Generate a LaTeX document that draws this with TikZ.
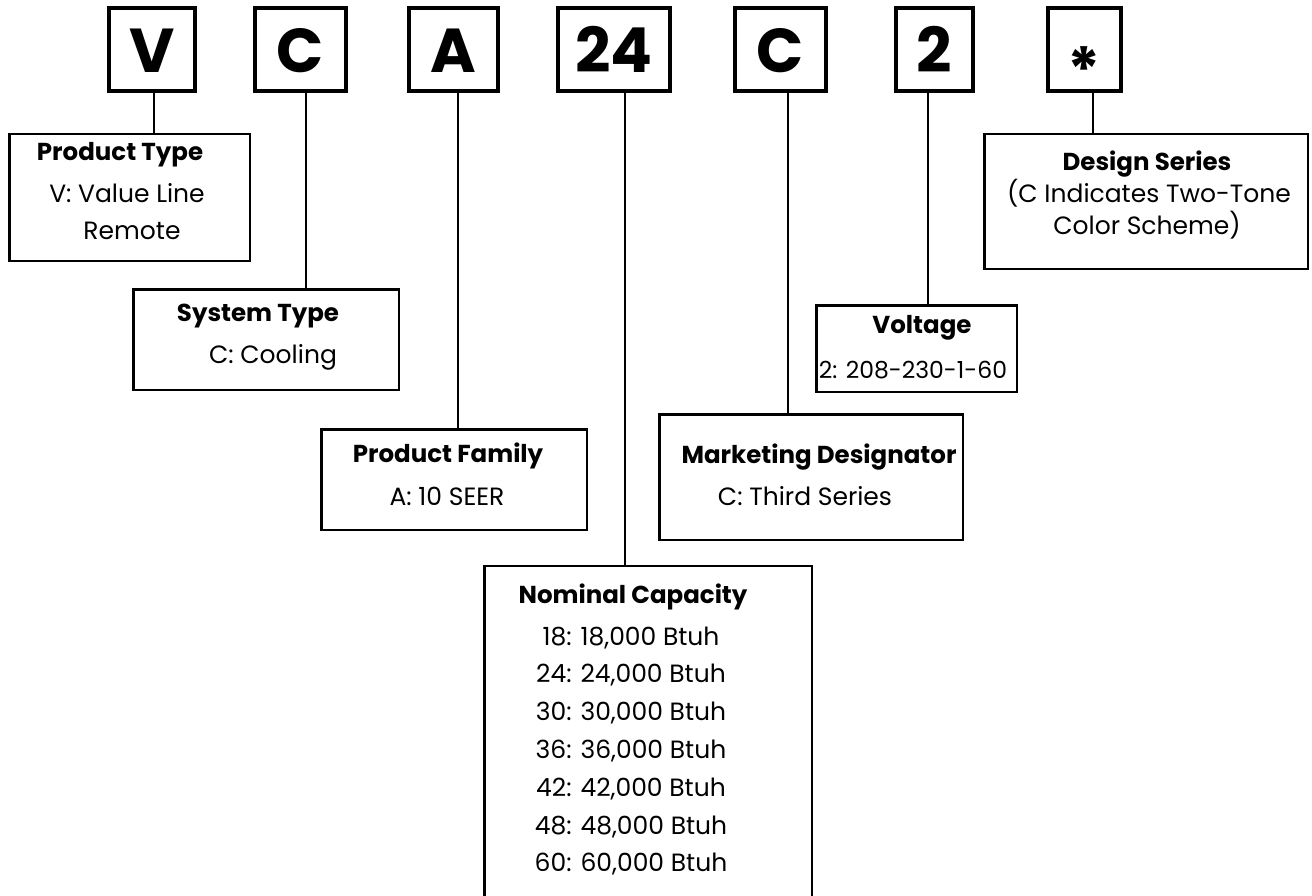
\documentclass[tikz,border=0pt]{standalone}
\usepackage{fontspec}
\setmainfont{Poppins}
\begin{document}
\begin{tikzpicture}[x=1pt,y=-1pt,
    letterbox/.style={draw,line width=4pt,inner sep=0pt,minimum height=83pt,
      text height=47pt,text depth=0pt,font=\fontsize{62}{62}\selectfont\bfseries},
    infobox/.style={draw,line width=2.5pt,inner sep=0pt},
    lead/.style={line width=1.2pt},
    head/.style={anchor=base,inner sep=0pt,font=\fontsize{24.5}{24.5}\selectfont\bfseries},
    body/.style={anchor=base,inner sep=0pt,font=\fontsize{25}{25}\selectfont}]
\useasboundingbox (0,0) rectangle (1312,896);

% code letters
\node[letterbox,minimum width=86pt] (lV) at (152,49.5) {V};
\node[letterbox,minimum width=91pt] (lC) at (300.5,49.5) {C};
\node[letterbox,minimum width=89pt] (lA) at (453.5,49.5) {A};
\node[letterbox,minimum width=112pt] (l24) at (614,49.5) {24};
\node[letterbox,minimum width=91pt] (lM) at (780.5,49.5) {C};
\node[letterbox,minimum width=77pt] (l2) at (934.5,49.5) {2};
\node[letterbox,minimum width=73pt] (lS) at (1084.5,49.5) {\raisebox{-20pt}{*}};

% description boxes
\node[infobox,minimum width=240.5pt,minimum height=126.5pt] (ptype) at (129.5,197.5) {};
\node[infobox,minimum width=265.5pt,minimum height=100.5pt] (stype) at (266,339.5) {};
\node[infobox,minimum width=265.5pt,minimum height=100.5pt] (pfam) at (454,479.5) {};
\node[infobox,minimum width=327.5pt,minimum height=354pt] (ncap) at (648,743) {};
\node[infobox,minimum width=303.5pt,minimum height=125.5pt] (mktg) at (811,477) {};
\node[infobox,minimum width=200.5pt,minimum height=86.5pt] (volt) at (916.5,348.5) {};
\node[infobox,minimum width=323.5pt,minimum height=134.5pt] (dser) at (1146,201.5) {};

% texts
\node[head] (ptypeT) at (120,161) {Product Type};
\node[body] (ptypeA) at (127,203) {V: Value Line};
\node[body] (ptypeB) at (132,240) {Remote};
\node[head] (stypeT) at (258,321) {System Type};
\node[body] (stypeA) at (273,363) {C: Cooling};
\node[head] (pfamT) at (448,462) {Product Family};
\node[body] (pfamA) at (447,505) {A: 10 SEER};
\node[head] (ncapT) at (633,603) {Nominal Capacity};
\foreach \kbtu [count=\i from 0] in {18,24,30,36,42,48,60}
  \node[body] (ncap\kbtu) at (631,{645+37.8*\i}) {\kbtu: \kbtu,000 Btuh};
\node[head] (mktgT) at (819,463) {Marketing Designator};
\node[body] (mktgA) at (805,505) {C: Third Series};
\node[head] (voltT) at (922,333) {Voltage};
\node[body,font=\fontsize{23.5}{23.5}\selectfont] (voltA) at (913,378) {2: 208-230-1-60};
\node[head] (dserT) at (1147,171) {Design Series};
\node[body] (dserA) at (1149,203) {(C Indicates Two-Tone};
\node[body] (dserB) at (1147,235) {Color Scheme)};

% leaders
\draw[lead] ([xshift=2pt]lV.south) -- ([xshift=2pt]lV.south |- ptype.north);
\draw[lead] ([xshift=5.5pt]lC.south) -- ([xshift=5.5pt]lC.south |- stype.north);
\draw[lead] ([xshift=4.5pt]lA.south) -- ([xshift=4.5pt]lA.south |- pfam.north);
\draw[lead] ([xshift=11pt]l24.south) -- ([xshift=11pt]l24.south |- ncap.north);
\draw[lead] ([xshift=7.5pt]lM.south) -- ([xshift=7.5pt]lM.south |- mktg.north);
\draw[lead] ([xshift=-6.5pt]l2.south) -- ([xshift=-6.5pt]l2.south |- volt.north);
\draw[lead] ([xshift=8.5pt]lS.south) -- ([xshift=8.5pt]lS.south |- dser.north);
\end{tikzpicture}
\end{document}
